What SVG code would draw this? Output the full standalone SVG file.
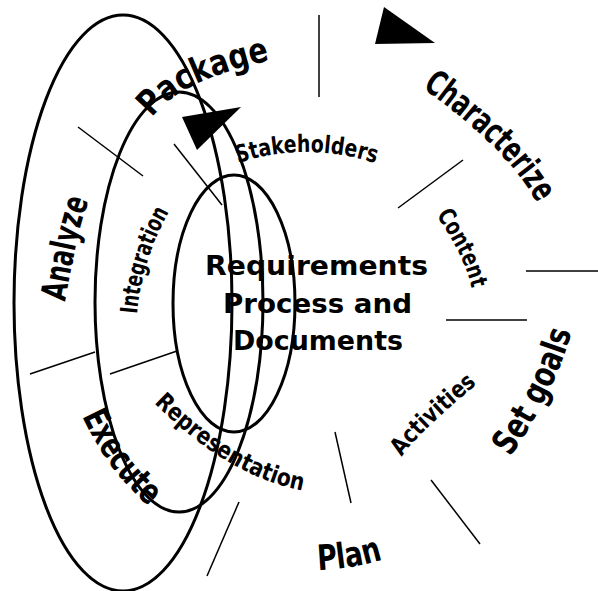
<svg xmlns="http://www.w3.org/2000/svg" width="598" height="591" viewBox="0 0 598 591">
<style>
.ring{fill:none;stroke:#000;stroke-width:3}
.thin{stroke:#000;stroke-width:1.5;fill:none}
.tri{fill:#000;stroke:none}
.outer{font-family:"DejaVu Sans","Liberation Sans",sans-serif;font-weight:bold;font-size:35px;fill:#000}
.inner{font-family:"DejaVu Sans","Liberation Sans",sans-serif;font-weight:bold;font-size:24px;fill:#000}
.center{font-family:"DejaVu Sans","Liberation Sans",sans-serif;font-weight:bold;font-size:27px;fill:#000}
</style>
<defs>
<path id="pPackage" d="M152,118 Q179,80 272,60"/>
<path id="pCharacterize" d="M422,88 Q508,148 538,205"/>
<path id="pContent" d="M436,215 Q465,256 472,290"/>
<path id="pStakeholders" d="M238,163 Q308,140.5 378,164"/>
<path id="pIntegration" d="M137,314 Q142,259 170,210"/>
<path id="pAnalyze" d="M65,302 Q80.7,213.4 90,200"/>
<path id="pExecute" d="M82,416 Q108,472 150,507"/>
<path id="pRepresentation" d="M154,403 Q228.5,477.5 305,491"/>
<path id="pActivities" d="M402,457 Q413.4,437.2 478,383"/>
<path id="pSetgoals" d="M510,457 Q555.3,392.4 572,330"/>
<path id="pPlan" d="M318,570 Q352,569 384,559"/>
</defs>
<rect width="598" height="591" fill="#fff"/>
<g id="center">
<text class="center"><tspan x="205" y="275" textLength="223" lengthAdjust="spacingAndGlyphs">Requirements</tspan><tspan x="223" y="313" textLength="189" lengthAdjust="spacingAndGlyphs">Process and</tspan><tspan x="233" y="350" textLength="170" lengthAdjust="spacingAndGlyphs">Documents</tspan></text>
</g>
<g id="ring-outer"><ellipse class="ring" cx="123" cy="303" rx="109" ry="288"/></g>
<g id="ring-middle"><ellipse class="ring" cx="179" cy="302" rx="84" ry="210"/></g>
<g id="ring-inner"><ellipse class="ring" cx="234" cy="303.5" rx="61" ry="128.5"/></g>
<g id="connectors">
<line class="thin" x1="78" y1="127" x2="143" y2="176"/>
<line class="thin" x1="174" y1="144" x2="222" y2="205"/>
<line class="thin" x1="319" y1="15" x2="319" y2="97"/>
<line class="thin" x1="463" y1="160" x2="398" y2="208"/>
<line class="thin" x1="526" y1="271" x2="598" y2="271"/>
<line class="thin" x1="446" y1="320" x2="527" y2="320"/>
<line class="thin" x1="335" y1="432" x2="351" y2="503"/>
<line class="thin" x1="431" y1="480" x2="480" y2="544"/>
<line class="thin" x1="30" y1="374" x2="95" y2="352"/>
<line class="thin" x1="110" y1="374" x2="177" y2="351"/>
<line class="thin" x1="239" y1="502" x2="207" y2="576"/>
<polygon class="tri" points="182,117 241,107 197,150"/>
<polygon class="tri" points="384,7 435,43 375,44"/>
</g>
<g id="label-package"><text class="outer"><textPath href="#pPackage" textLength="134" lengthAdjust="spacingAndGlyphs">Package</textPath></text></g>
<g id="label-characterize"><text class="outer"><textPath href="#pCharacterize" textLength="164" lengthAdjust="spacingAndGlyphs">Characterize</textPath></text></g>
<g id="label-setgoals"><text class="outer"><textPath href="#pSetgoals" textLength="140" lengthAdjust="spacingAndGlyphs">Set goals</textPath></text></g>
<g id="label-plan"><text class="outer"><textPath href="#pPlan" textLength="66" lengthAdjust="spacingAndGlyphs">Plan</textPath></text></g>
<g id="label-execute"><text class="outer"><textPath href="#pExecute" textLength="113" lengthAdjust="spacingAndGlyphs">Execute</textPath></text></g>
<g id="label-analyze"><text class="outer"><textPath href="#pAnalyze" textLength="104" lengthAdjust="spacingAndGlyphs">Analyze</textPath></text></g>
<g id="label-stakeholders"><text class="inner"><textPath href="#pStakeholders" textLength="140" lengthAdjust="spacingAndGlyphs">Stakeholders</textPath></text></g>
<g id="label-content"><text class="inner"><textPath href="#pContent" textLength="82" lengthAdjust="spacingAndGlyphs">Content</textPath></text></g>
<g id="label-activities"><text class="inner"><textPath href="#pActivities" textLength="105" lengthAdjust="spacingAndGlyphs">Activities</textPath></text></g>
<g id="label-representation"><text class="inner"><textPath href="#pRepresentation" textLength="175" lengthAdjust="spacingAndGlyphs">Representation</textPath></text></g>
<g id="label-integration"><text class="inner"><textPath href="#pIntegration" textLength="108" lengthAdjust="spacingAndGlyphs">Integration</textPath></text></g>
</svg>
